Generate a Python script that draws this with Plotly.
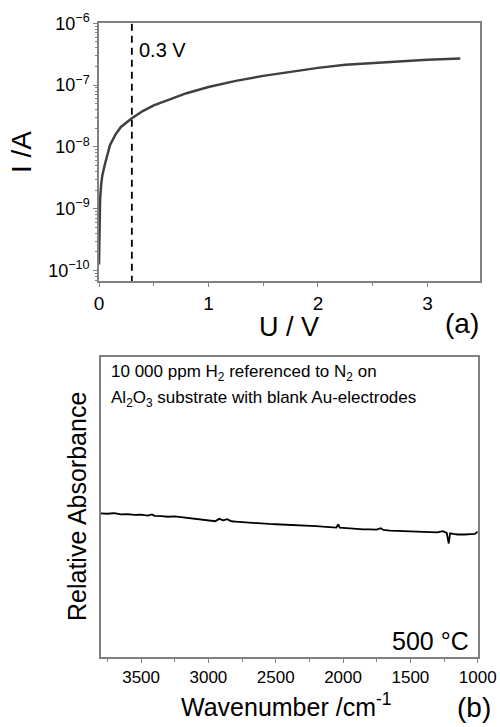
import plotly.graph_objects as go

FONT = "Liberation Sans, Arial, sans-serif"

# ---- panel (a): I-U curve ----
voltage_V = [0, 0.003, 0.006, 0.01, 0.02, 0.03, 0.05, 0.075, 0.1, 0.15, 0.2, 0.3, 0.4, 0.5,
             0.6, 0.8, 1.0, 1.25, 1.5, 1.75, 2.0, 2.25, 2.5, 2.75, 3.0, 3.3]
current_A = [1.25e-10, 3.2e-10, 8.0e-10, 1.4e-9, 2.5e-9, 3.4e-9, 4.9e-9, 7.6e-9, 1.07e-8,
             1.58e-8, 2.1e-8, 2.9e-8, 3.8e-8, 4.7e-8, 5.5e-8, 7.4e-8, 9.3e-8, 1.17e-7,
             1.41e-7, 1.66e-7, 1.9e-7, 2.14e-7, 2.29e-7, 2.45e-7, 2.57e-7, 2.69e-7]
marker_voltage = 0.3
y_tickvals_a = [1e-10, 1e-9, 1e-8, 1e-7, 1e-6]
y_ticktext_a = ["10<sup>−10</sup>", "10<sup>−9</sup>", "10<sup>−8</sup>", "10<sup>−7</sup>", "10<sup>−6</sup>"]

# ---- panel (b): spectrum ----
wavenumber = [3800, 3750, 3700, 3650, 3600, 3550, 3500, 3450, 3420, 3400, 3350, 3300, 3250,
              3200, 3150, 3100, 3050, 3000, 2975, 2950, 2920, 2890, 2860, 2830, 2800, 2750,
              2700, 2650, 2600, 2550, 2500, 2450, 2400, 2350, 2300, 2250, 2200, 2150, 2100,
              2050, 2035, 2025, 2000, 1950, 1900, 1850, 1800, 1750, 1720, 1700, 1650, 1600,
              1550, 1500, 1450, 1400, 1350, 1300, 1260, 1230, 1215, 1205, 1180, 1150, 1100,
              1050, 1020, 1005, 1000]
absorbance = [0.478, 0.477, 0.479, 0.475, 0.476, 0.473, 0.474, 0.471, 0.475, 0.470, 0.469,
              0.467, 0.468, 0.465, 0.463, 0.460, 0.458, 0.455, 0.451, 0.452, 0.460, 0.455,
              0.459, 0.452, 0.451, 0.449, 0.448, 0.446, 0.444, 0.443, 0.442, 0.441, 0.442,
              0.440, 0.438, 0.437, 0.436, 0.434, 0.433, 0.431, 0.442, 0.431, 0.430, 0.428,
              0.427, 0.425, 0.425, 0.424, 0.429, 0.423, 0.421, 0.420, 0.418, 0.417, 0.416,
              0.415, 0.414, 0.415, 0.419, 0.413, 0.378, 0.412, 0.410, 0.408, 0.408, 0.409,
              0.410, 0.416, 0.413]

W, H = 500, 727
def px(x):
    return x / W
def py(y):
    return 1 - y / H

AX = "#808080"

fig = go.Figure()
fig.add_trace(go.Scatter(x=voltage_V, y=current_A, mode="lines", line=dict(color="#404040", width=2.5),
                         xaxis="x", yaxis="y", showlegend=False))
fig.add_trace(go.Scatter(x=[marker_voltage, marker_voltage], y=[10**-10.2, 1e-6], mode="lines",
                         line=dict(color="black", width=1.8, dash="7px,5px"), xaxis="x", yaxis="y", showlegend=False))
fig.add_trace(go.Scatter(x=wavenumber, y=absorbance, mode="lines", line=dict(color="black", width=1.8),
                         xaxis="x2", yaxis="y2", showlegend=False))

axis_common = dict(showline=True, linecolor=AX, linewidth=1.5, mirror=True, showgrid=False, zeroline=False,
                   automargin=False, ticks="outside", tickcolor=AX, ticklen=4,
                   tickfont=dict(family=FONT, color="black"))

fig.update_layout(
    width=W, height=H, margin=dict(l=0, r=0, t=0, b=0, autoexpand=False),
    paper_bgcolor="white", plot_bgcolor="white",
    font=dict(family=FONT, color="black"),
    xaxis=dict(axis_common, domain=[px(99), px(480)], range=[0, 3.48], anchor="y",
               tickvals=[0, 1, 2, 3], tickfont=dict(family=FONT, size=19, color="black"),
               minor=dict(ticks="outside", ticklen=3, tickcolor=AX, dtick=0.5, tick0=0)),
    yaxis=dict(axis_common, domain=[py(281), py(23.3)], type="log", range=[-10.17, -6], anchor="x",
               tickvals=y_tickvals_a, ticktext=y_ticktext_a, tickfont=dict(family=FONT, size=18, color="black"),
               minor=dict(ticks="outside", ticklen=2.5, tickcolor=AX, dtick="D1")),
    xaxis2=dict(axis_common, domain=[px(100.7), px(477.7)], range=[3800, 1000], anchor="y2",
                tick0=1000, dtick=500, tickfont=dict(family=FONT, size=17, color="black"),
                minor=dict(ticks="outside", ticklen=3, tickcolor=AX, dtick=250, tick0=1000)),
    yaxis2=dict(showline=True, linecolor=AX, linewidth=1.5, mirror=True, showgrid=False, zeroline=False,
                automargin=False, domain=[py(657), py(356.7)], range=[0, 1], anchor="x2",
                showticklabels=False, ticks=""),
)

ann = [
    dict(text="0.3 V", x=px(137), y=py(50), xanchor="left", yanchor="middle", font=dict(size=20)),
    dict(text="I /A", x=px(22), y=py(152), textangle=-90, xanchor="center", yanchor="middle", font=dict(size=28)),
    dict(text="U / V", x=px(289), y=py(327), xanchor="center", yanchor="middle", font=dict(size=27)),
    dict(text="(a)", x=px(462), y=py(323), xanchor="center", yanchor="middle", font=dict(size=28)),
    dict(text="10 000 ppm H<sub>2</sub> referenced to N<sub>2</sub> on", x=px(109), y=py(373), xanchor="left", yanchor="middle", font=dict(size=17)),
    dict(text="Al<sub>2</sub>O<sub>3</sub> substrate with blank Au-electrodes", x=px(109), y=py(399), xanchor="left", yanchor="middle", font=dict(size=17)),
    dict(text="500 °C", x=px(471), y=py(641), xanchor="right", yanchor="middle", font=dict(size=25)),
    dict(text="Relative Absorbance", x=px(77), y=py(507), textangle=-90, xanchor="center", yanchor="middle", font=dict(size=25)),
    dict(text="Wavenumber /cm<sup>-1</sup>", x=px(286), y=py(705), xanchor="center", yanchor="middle", font=dict(size=25)),
    dict(text="(b)", x=px(474), y=py(707), xanchor="center", yanchor="middle", font=dict(size=28)),
]
for a in ann:
    a.update(xref="paper", yref="paper", showarrow=False)
    a["font"].update(family=FONT, color="black")
fig.update_layout(annotations=ann)

fig.write_html("out.html", config={"displayModeBar": False},
               post_script="document.body.style.margin='0';document.body.style.overflow='hidden';")
